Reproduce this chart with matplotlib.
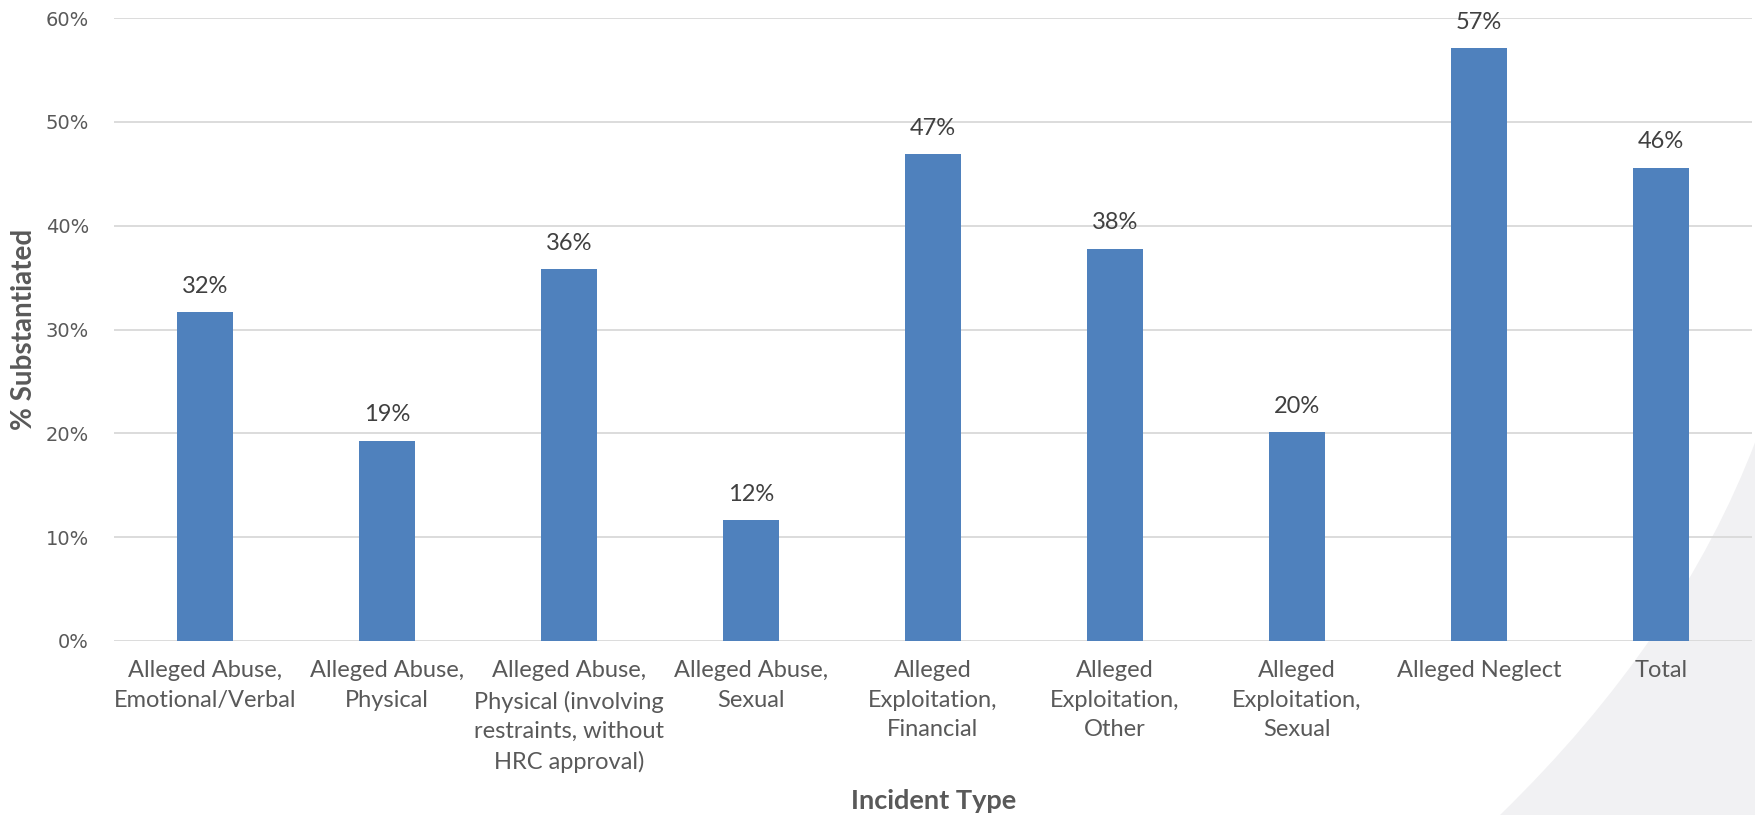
import matplotlib.pyplot as plt
from matplotlib.path import Path
from matplotlib.patches import PathPatch
from matplotlib.ticker import PercentFormatter

categories = [
    'Alleged Abuse,\nEmotional/Verbal',
    'Alleged Abuse,\nPhysical',
    'Alleged Abuse,\nPhysical (involving\nrestraints, without\nHRC approval)',
    'Alleged Abuse,\nSexual',
    'Alleged\nExploitation,\nFinancial',
    'Alleged\nExploitation,\nOther',
    'Alleged\nExploitation,\nSexual',
    'Alleged Neglect',
    'Total',
]
pct_substantiated = [31.7, 19.3, 35.8, 11.65, 46.9, 37.8, 20.1, 57.1, 45.6]
y_ticks = [0, 10, 20, 30, 40, 50, 60]

W, H = 1756, 815
fig = plt.figure(figsize=(W / 100, H / 100), dpi=100)

# light grey swoosh in the lower right corner of the slide
def px(x, y):
    return (x / W, 1 - y / H)

verts = [px(1756, 440), px(1680, 640), px(1500, 815), px(1756, 815), px(1756, 440)]
codes = [Path.MOVETO, Path.CURVE3, Path.CURVE3, Path.LINETO, Path.CLOSEPOLY]
fig.patches.append(PathPatch(Path(verts, codes), transform=fig.transFigure,
                             facecolor='#F1F1F3', edgecolor='none', zorder=-1))

ax = fig.add_axes([114 / W, 1 - 641 / H, (1752 - 114) / W, (641 - 18) / H])
ax.set_facecolor('none')

x = range(len(categories))
bars = ax.bar(x, pct_substantiated, width=0.31, color='#4F81BD', zorder=2)

for xi, v in zip(x, pct_substantiated):
    ax.annotate(f'{v:.0f}%', (xi, v), xytext=(0, 11), textcoords='offset points',
                ha='center', va='bottom', fontsize=17, color='#404040', family='Lato')

ax.set_xlim(-0.5, len(categories) - 0.5)
ax.set_ylim(0, 60)
ax.set_yticks(y_ticks)
ax.yaxis.set_major_formatter(PercentFormatter(decimals=0))
ax.grid(axis='y', color='#D9D9D9', linewidth=1.3, zorder=0)
ax.set_axisbelow(True)
for s in ax.spines.values():
    s.set_visible(False)
ax.tick_params(length=0)

ax.set_xticks(list(x))
ax.set_xticklabels(categories, fontsize=17, color='#595959', family='Lato',
                   linespacing=1.5)
ax.tick_params(axis='x', pad=14)
for lbl in ax.get_yticklabels():
    lbl.set_fontsize(14)
    lbl.set_color('#595959')
    lbl.set_family('DejaVu Sans')
ax.tick_params(axis='y', pad=18)

ax.set_ylabel('% Substantiated', fontsize=20, fontweight='bold', color='#595959',
              family='Lato', labelpad=6)
fig.text(934 / W, 1 - 801 / H, 'Incident Type', ha='center', va='center',
         fontsize=19.5, fontweight='bold', color='#595959', family='Lato')

fig.savefig('out.png', dpi=100)
